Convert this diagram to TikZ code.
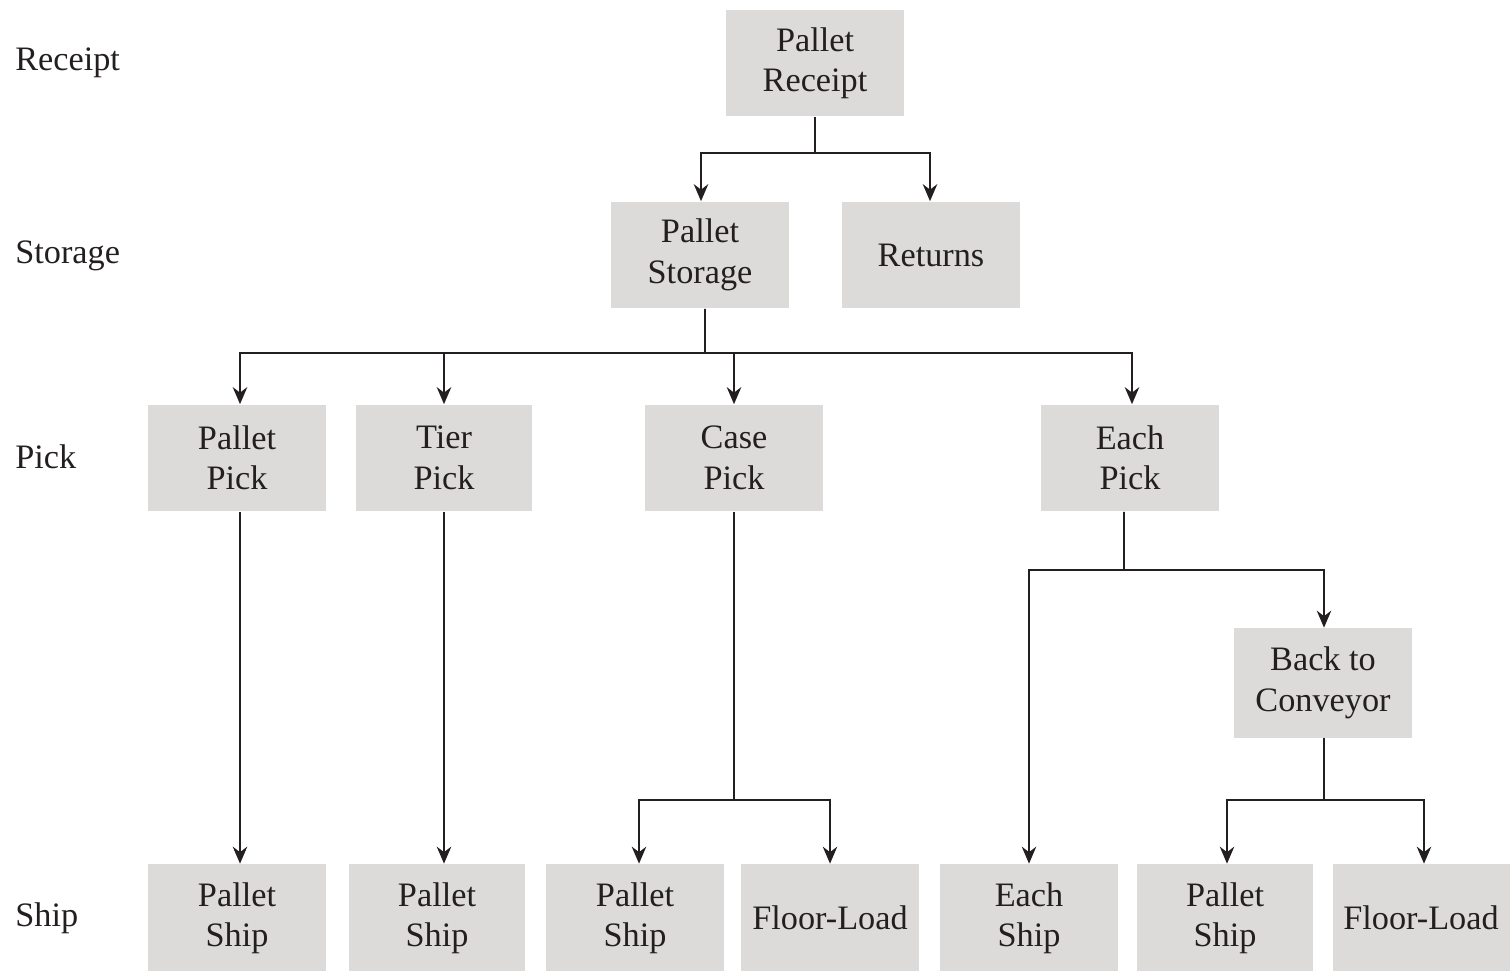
\documentclass[tikz,border=0pt]{standalone}
\usepackage{fontspec}
\setmainfont{Liberation Serif}
\usetikzlibrary{arrows.meta}
\definecolor{boxgray}{RGB}{221,219,218}
\definecolor{ink}{RGB}{35,31,32}

\begin{document}
\begin{tikzpicture}[
    x=0.02cm, y=-0.02cm,
    every node/.style={font=\fontsize{19.5}{23}\selectfont,align=center,text=ink},
    box/.style={fill=boxgray,minimum width=3.56cm,minimum height=2.14cm,inner sep=2pt},
    level/.style={anchor=west,inner sep=0pt},
    line/.style={draw=ink,line width=1.1pt},
    arrow/.style={line,-{Stealth[length=3.4mm,width=2.9mm,inset=1.1mm]}}
]
\useasboundingbox (0,0) rectangle (1510,970);
% row labels
\node[level] (lrec) at (15,63) {Receipt};
\node[level] (lsto) at (15,256) {Storage};
\node[level] (lpic) at (15,457) {Pick};
\node[level] (lshp) at (15,918) {Ship};
% receipt and storage
\node[box] (rcpt) at (815,63) {Pallet\\Receipt};
\node[box] (pstor) at (700,255) {Pallet\\Storage};
\node[box] (ret) at (931,255) {Returns};
% pick
\node[box] (ppick) at (237,458) {Pallet\\Pick};
\node[box,minimum width=3.52cm] (tpick) at (444,458) {Tier\\Pick};
\node[box] (cpick) at (734,458) {Case\\Pick};
\node[box] (epick) at (1130,458) {Each\\Pick};
\node[box,minimum height=2.2cm] (btc) at (1323,683) {Back to\\Conveyor};
% ship
\node[box,minimum height=2.16cm] (ship1) at (237,918) {Pallet\\Ship};
\node[box,minimum height=2.16cm,minimum width=3.52cm] (ship2) at (437,918) {Pallet\\Ship};
\node[box,minimum height=2.16cm] (ship3) at (635,918) {Pallet\\Ship};
\node[box,minimum height=2.16cm] (fload1) at (830,918) {Floor-Load};
\node[box,minimum height=2.16cm] (eship) at (1029,918) {Each\\Ship};
\node[box,minimum height=2.16cm,minimum width=3.52cm] (ship4) at (1225,918) {Pallet\\Ship};
\node[box,minimum height=2.16cm,minimum width=3.54cm] (fload2) at (1421,918) {Floor-Load};
% connectors
\draw[line] (rcpt.south) -- (815,153) coordinate (j1);
\draw[arrow] (j1) -| ([xshift=0.02cm]pstor.north);
\draw[arrow] (j1) -| ([xshift=-0.02cm]ret.north);
\draw[line] ([xshift=0.1cm]pstor.south) -- (705,353) coordinate (j2);
\draw[arrow] (j2) -| ([xshift=0.06cm]ppick.north);
\draw[arrow] (j2) -| (tpick.north);
\draw[arrow] (j2) -| (cpick.north);
\draw[arrow] (j2) -| ([xshift=0.04cm]epick.north);
\draw[arrow] ([xshift=0.06cm]ppick.south) -- ([xshift=0.06cm]ship1.north);
\draw[arrow] (tpick.south) -- (tpick.south |- ship2.north);
\draw[line] (cpick.south) -- (734,800) coordinate (j3);
\draw[arrow] (j3) -| ([xshift=0.08cm]ship3.north);
\draw[arrow] (j3) -| (fload1.north);
\draw[line] ([xshift=-0.12cm]epick.south) -- (1124,570) coordinate (j4);
\draw[arrow] (j4) -| (eship.north);
\draw[arrow] (j4) -| ([xshift=0.02cm]btc.north);
\draw[line] ([xshift=0.02cm]btc.south) -- (1324,800) coordinate (j5);
\draw[arrow] (j5) -| ([xshift=0.04cm]ship4.north);
\draw[arrow] (j5) -| ([xshift=0.06cm]fload2.north);
\end{tikzpicture}
\end{document}
